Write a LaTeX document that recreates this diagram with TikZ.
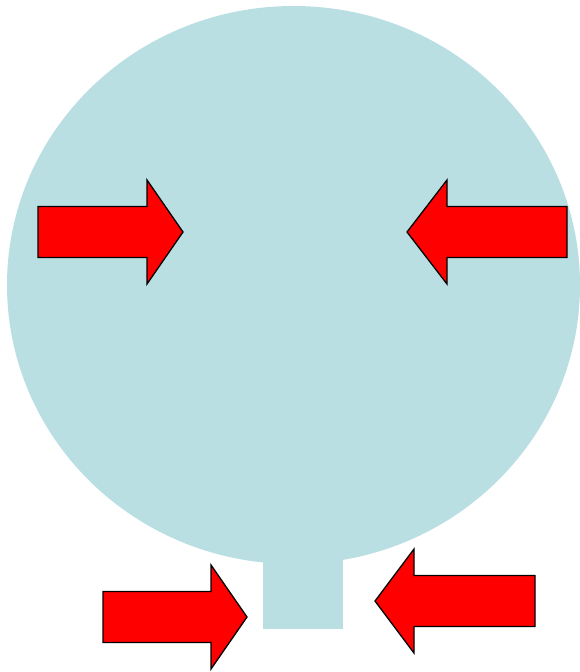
\documentclass[tikz,border=0pt]{standalone}
\usepackage{xcolor}
\usepackage{tikz}
\definecolor{bulbB}{HTML}{BADFE3}
\definecolor{pushR}{HTML}{FF0000}

\begin{document}
\begin{tikzpicture}[x=1pt, y=-1pt,
  pusharrow/.style={fill=pushR, draw=black, line width=1.3pt, line join=miter}]
  \path[use as bounding box] (0,0) rectangle (580,672);

  % bulb with its neck
  \fill[bulbB] (293.5,285) ellipse [x radius=286.5, y radius=279];
  \fill[bulbB] (263,550) rectangle (343,629);

  % block arrows: tip x / tip y / direction / head length / shaft length
  \foreach \tx/\ty/\d/\h/\s in {183/232/1/36/109, 407/232/-1/40/120,
                                247/617/1/36/108, 375/601/-1/39/121}{
    \draw[pusharrow] (\tx,\ty) -- ++(-\d*\h,-52) -- ++(0,26.5)
      -- ++(-\d*\s,0) -- ++(0,51) -- ++(\d*\s,0) -- ++(0,26.5) -- cycle;
  }
\end{tikzpicture}
\end{document}
